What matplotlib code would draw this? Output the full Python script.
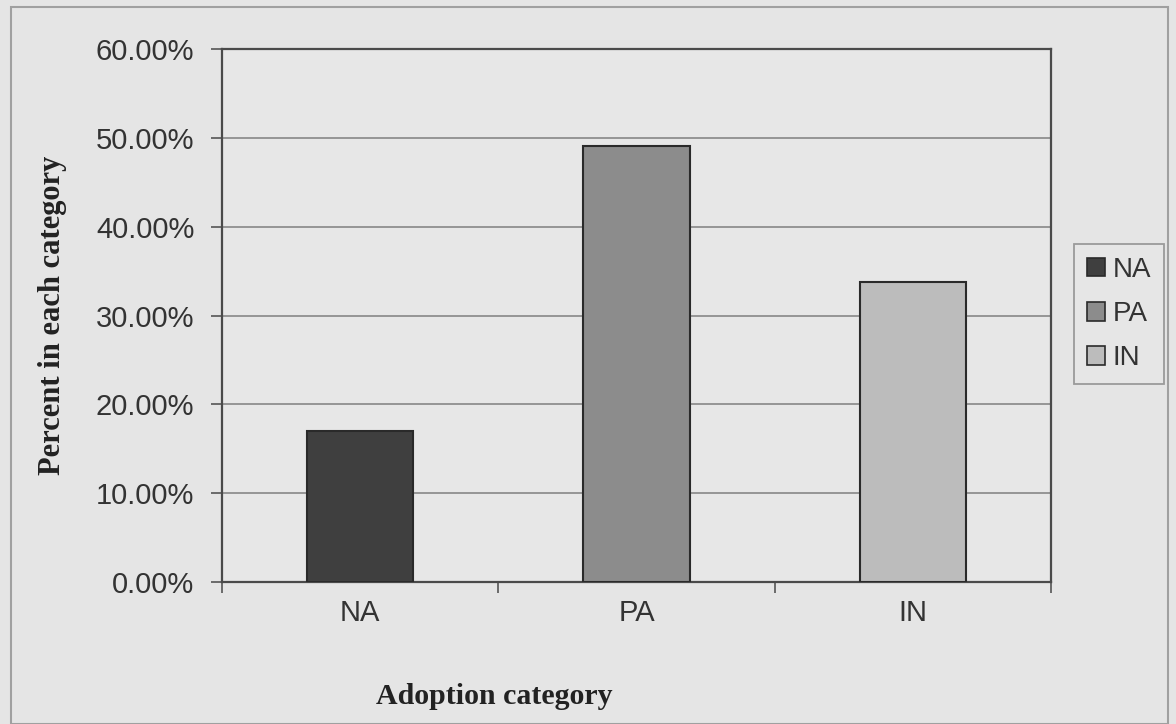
import matplotlib
matplotlib.use("Agg")
import matplotlib.pyplot as plt
from matplotlib.patches import Rectangle
from matplotlib.ticker import FuncFormatter

categories = ["NA", "PA", "IN"]
values = [17.0, 49.1, 33.8]
colors = ["#3f3f3f", "#8c8c8c", "#bcbcbc"]
yticks = [0, 10, 20, 30, 40, 50, 60]

bg = "#e5e5e5"
fig = plt.figure(figsize=(11.76, 7.24), dpi=100, facecolor=bg)
ax = fig.add_axes([0.1888, 0.1961, 0.7049, 0.7362])
ax.set_facecolor("#e7e7e7")

x = list(range(len(categories)))
bars = ax.bar(x, values, width=0.385, color=colors, edgecolor="#2a2a2a",
              linewidth=1.5, zorder=3)

ax.set_xlim(-0.5, len(categories) - 0.5)
ax.set_ylim(0, 60)
ax.set_yticks(yticks)
ax.yaxis.set_major_formatter(FuncFormatter(lambda v, p: f"{v:.2f}%"))
ax.set_xticks(x)
ax.set_xticklabels(categories)
ax.set_xticks([-0.5, 0.5, 1.5, 2.5], minor=True)
ax.tick_params(axis="x", which="major", length=0, pad=12)
ax.tick_params(axis="x", which="minor", length=8, width=1.2, color="#555555")
ax.tick_params(axis="y", length=8, width=1.2, color="#555555", pad=12)
for lab in ax.get_xticklabels() + ax.get_yticklabels():
    lab.set_fontfamily("Liberation Sans")
    lab.set_fontsize(21)
    lab.set_color("#333333")

ax.grid(axis="y", color="#8f8f8f", linewidth=1.3, zorder=0)
for s in ax.spines.values():
    s.set_color("#4a4a4a")
    s.set_linewidth(1.6)

ax.set_ylabel("Percent in each category", fontfamily="Liberation Serif",
              fontweight="bold", fontsize=22, color="#222222")
ax.set_xlabel("Adoption category", fontfamily="Liberation Serif",
              fontweight="bold", fontsize=21.5, color="#222222")
ax.yaxis.set_label_coords(-0.187, 0.5)
ax.xaxis.set_label_coords(0.328, -0.19)

handles = [Rectangle((0, 0), 1, 1, facecolor=c, edgecolor="#2a2a2a", linewidth=1.2)
           for c in colors]
leg = fig.legend(handles, categories, loc="center left",
                 bbox_to_anchor=(0.9133, 0.5663), frameon=True, fancybox=False,
                 prop={"family": "Liberation Sans", "size": 20},
                 handlelength=0.65, handleheight=0.65, handletextpad=0.3,
                 labelspacing=0.66, borderpad=0.45, borderaxespad=0)
leg.get_frame().set_edgecolor("#888888")
leg.get_frame().set_facecolor("#e7e7e7")
leg.get_frame().set_linewidth(1.3)
for t in leg.get_texts():
    t.set_color("#333333")

# outer chart border
fig.patches.append(Rectangle((0.009, 0.0), 0.984, 0.99, transform=fig.transFigure,
                             fill=False, edgecolor="#a0a0a0", linewidth=1.5))

fig.savefig("out.png", dpi=100, facecolor=bg)
